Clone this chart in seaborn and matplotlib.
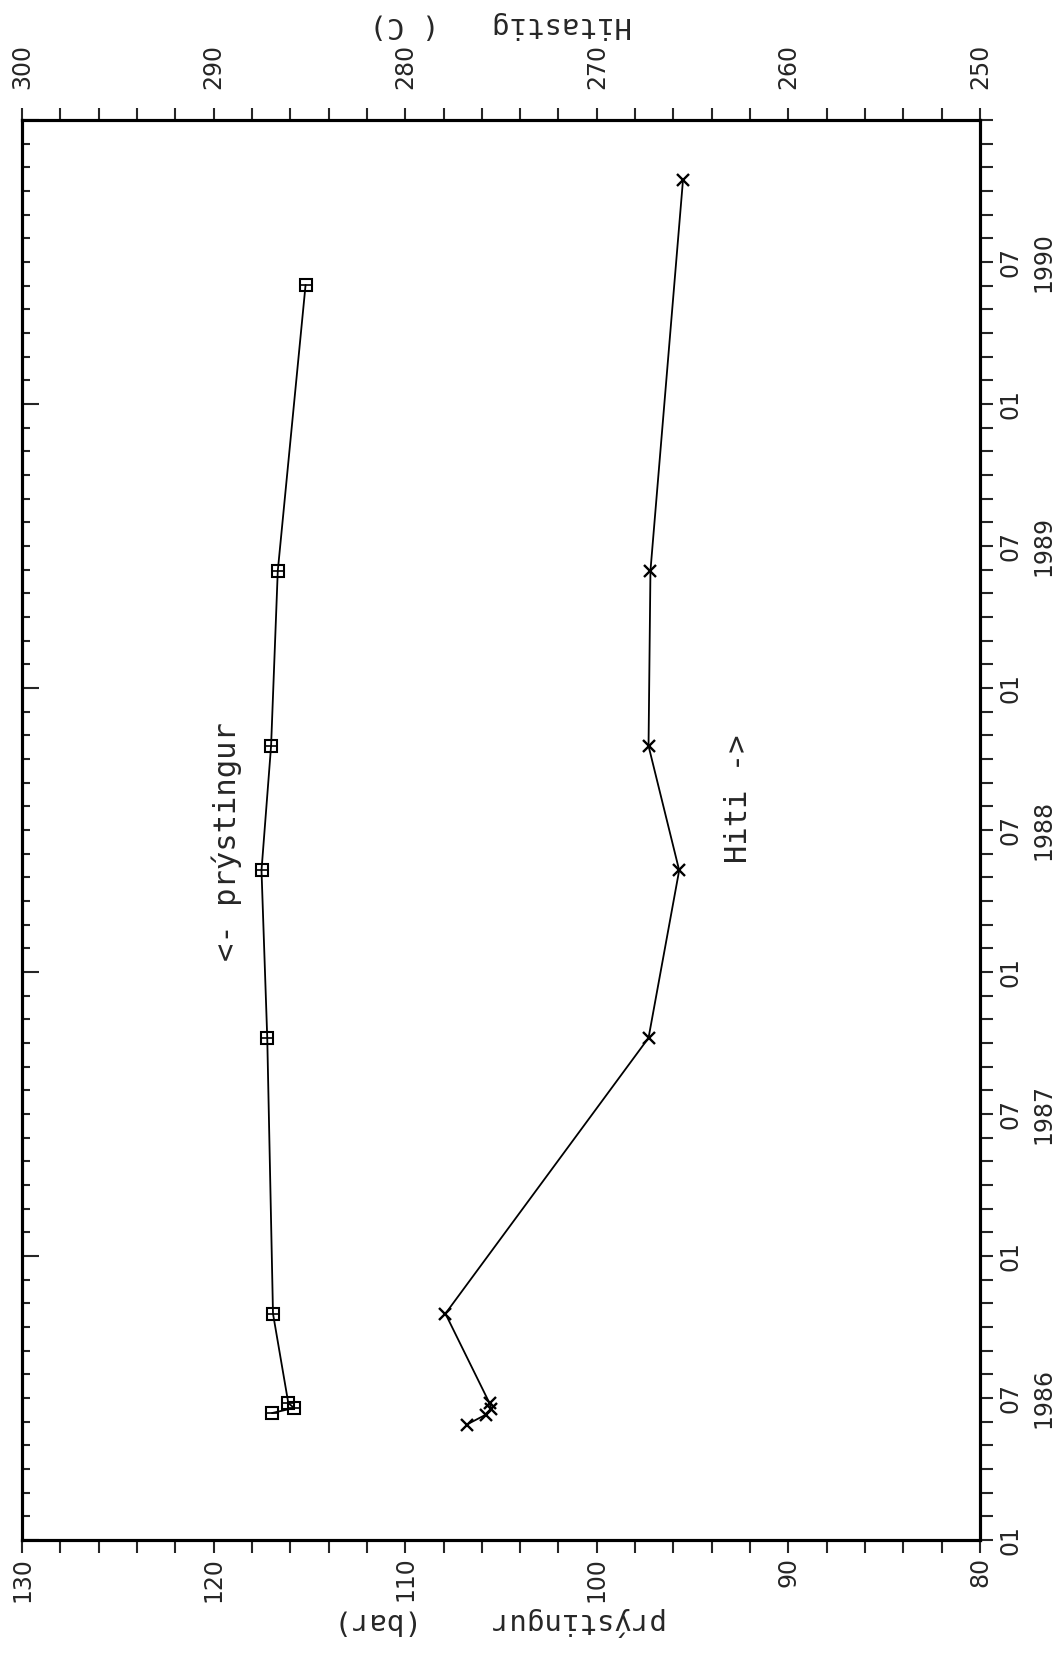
import numpy as np
import pandas as pd
import matplotlib
matplotlib.use("Agg")
import matplotlib.pyplot as plt
import seaborn as sns
from matplotlib.ticker import MultipleLocator, FixedLocator, FixedFormatter

# ---- data (decimal year, value) ----
p_time = [1986.447, 1986.465, 1986.482, 1986.797, 1987.768, 1988.358, 1988.796, 1989.413, 1990.419]
p_vals = [116.95, 115.8, 116.1, 116.9, 117.2, 117.5, 117.0, 116.65, 115.2]
t_time = [1986.406, 1986.441, 1986.461, 1986.482, 1986.797, 1987.768, 1988.358, 1988.796, 1989.413, 1990.790]
t_vals = [276.8, 275.8, 275.5, 275.6, 277.9, 267.3, 265.7, 267.3, 267.2, 265.5]
years = [1986, 1987, 1988, 1989, 1990]
p_ticks = [130, 120, 110, 100, 90, 80]
t_ticks = [300, 290, 280, 270, 260, 250]

sns.set_style("ticks")
plt.rcParams['font.family'] = ['DejaVu Sans']

W, H = 1057, 1655
fig = plt.figure(figsize=(W / 100, H / 100), dpi=100)
L, R, T, B = 22, 980, 120, 1540
ax = fig.add_axes([L / W, 1 - B / H, (R - L) / W, (B - T) / H])
ax2 = ax.twiny()
ax3 = ax.twinx()

df_p = pd.DataFrame({'time': p_time, 'p': p_vals})
df_t = pd.DataFrame({'time': t_time, 't': t_vals})

sns.lineplot(data=df_p, x='p', y='time', sort=False, estimator=None, ax=ax,
             color='black', lw=1.3, marker='s', markersize=8.5,
             markerfacecolor='none', markeredgecolor='black', markeredgewidth=1.5)
ax.plot(df_p['p'], df_p['time'], ls='none', marker='_', markersize=8,
        color='black', markeredgewidth=1.2)
sns.lineplot(data=df_t, x='t', y='time', sort=False, estimator=None, ax=ax2,
             color='black', lw=1.3, marker='x', markersize=9,
             markeredgecolor='black', markeredgewidth=1.7)

ax.set_xlim(130, 80)
ax.set_ylim(1986, 1991)
ax2.set_xlim(300, 250)
ax3.set_ylim(1986, 1991)

# bottom pressure axis
ax.xaxis.set_major_locator(FixedLocator(p_ticks))
ax.xaxis.set_minor_locator(MultipleLocator(2))
ax.tick_params(axis='x', which='both', direction='out', length=9, width=1.5,
               bottom=True, top=False, labelbottom=True, labeltop=False,
               labelrotation=90, labelsize=17, pad=3)
# left frame inner ticks
ax.yaxis.set_major_locator(FixedLocator(years + [1991]))
ax.yaxis.set_minor_locator(MultipleLocator(1 / 12))
ax.tick_params(axis='y', which='major', direction='in', length=12, width=1.5,
               left=True, right=False, labelleft=False, labelright=False)
ax.tick_params(axis='y', which='minor', direction='in', length=6, width=1.5,
               left=True, right=False)

# top temperature axis
ax2.xaxis.set_major_locator(FixedLocator(t_ticks))
ax2.xaxis.set_minor_locator(MultipleLocator(2))
ax2.tick_params(axis='x', which='both', direction='out', length=9, width=1.5,
                top=True, bottom=False, labeltop=True, labelbottom=False,
                labelrotation=90, labelsize=17, pad=13)

# right time axis
pos, labs = [], []
for y in years:
    pos += [y, y + 0.5]
    labs += ["01", "07\n" + str(y)]
ax3.yaxis.set_major_locator(FixedLocator(pos))
ax3.yaxis.set_major_formatter(FixedFormatter(labs))
ax3.yaxis.set_minor_locator(MultipleLocator(1 / 12))
ax3.tick_params(axis='y', which='both', direction='out', length=9, width=1.5,
                right=True, left=False, labelright=True, labelleft=False,
                labelrotation=90, labelsize=17, pad=4)
for lab in ax3.get_yticklabels():
    lab.set_linespacing(1.5)
    lab.set_multialignment('center')
    lab.set_va('center')

for a in (ax, ax2, ax3):
    for s in a.spines.values():
        s.set_linewidth(2.2)
        s.set_color('black')
    a.set_ylabel('')
    a.grid(False)

ax.set_xlabel("prýstingur    (bar)", rotation=180, fontsize=21,
              family='DejaVu Sans Mono', labelpad=4)
ax2.set_xlabel("Hitastig   ( C)", rotation=180, fontsize=21,
               family='DejaVu Sans Mono', labelpad=8)

ax.text(119.3, 1988.46, "<- prýstingur", rotation=90, ha='center', va='center',
        fontsize=22, family='DejaVu Sans Mono')
ax.text(92.6, 1988.61, "Hiti ->", rotation=90, ha='center', va='center',
        fontsize=22, family='DejaVu Sans Mono')

fig.savefig("out.png", dpi=100, facecolor='white')
